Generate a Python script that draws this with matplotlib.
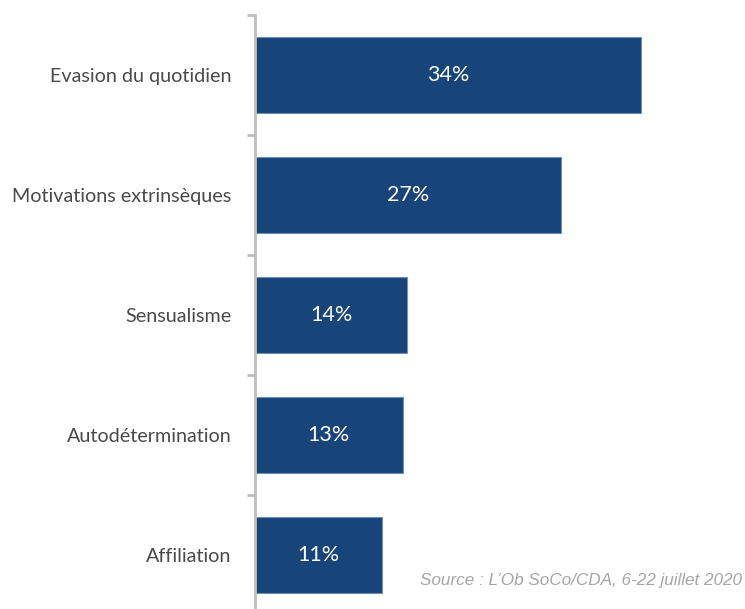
import numpy as np
import matplotlib.pyplot as plt

categories = ["Evasion du quotidien", "Motivations extrinsèques", "Sensualisme",
              "Autodétermination", "Affiliation"]
values = [34.0, 27.0, 13.4, 13.0, 11.2]
value_labels = ["34%", "27%", "14%", "13%", "11%"]

bar_color = '#17457a'
grey = '#bfbfbf'

fig = plt.figure(figsize=(7.45, 6.09), dpi=100)
ax = fig.add_axes([255/745, -6/609, 490/745, 600/609])

y = np.arange(len(categories))
ax.barh(y, values, height=0.64, color=bar_color, edgecolor='#6f8fb8', linewidth=0.8)
for yi, v, lab in zip(y, values, value_labels):
    ax.text(v/2, yi, lab, ha='center', va='center', color='white',
            fontsize=15.5, family='Lato')

ax.set_xlim(0, 490/11.35)
ax.set_ylim(len(categories) - 0.5, -0.5)

ax.set_yticks(y)
ax.set_yticklabels(categories, family='Lato', fontsize=14.2, color='#4a4a4a')
ax.tick_params(axis='y', which='major', length=0, pad=17)
ax.set_yticks(np.arange(len(categories) + 1) - 0.5, minor=True)
ax.tick_params(axis='y', which='minor', length=6, width=2, color=grey)
ax.set_xticks([])

for s in ['top', 'right', 'bottom']:
    ax.spines[s].set_visible(False)
ax.spines['left'].set_color(grey)
ax.spines['left'].set_linewidth(2)

fig.text(742/745, 1 - 580/609, "Source : L’Ob SoCo/CDA, 6-22 juillet 2020",
         ha='right', va='center', fontsize=12.3, style='italic',
         family='Liberation Sans', color='#a6a6a6')

fig.savefig('out.png', dpi=100)
